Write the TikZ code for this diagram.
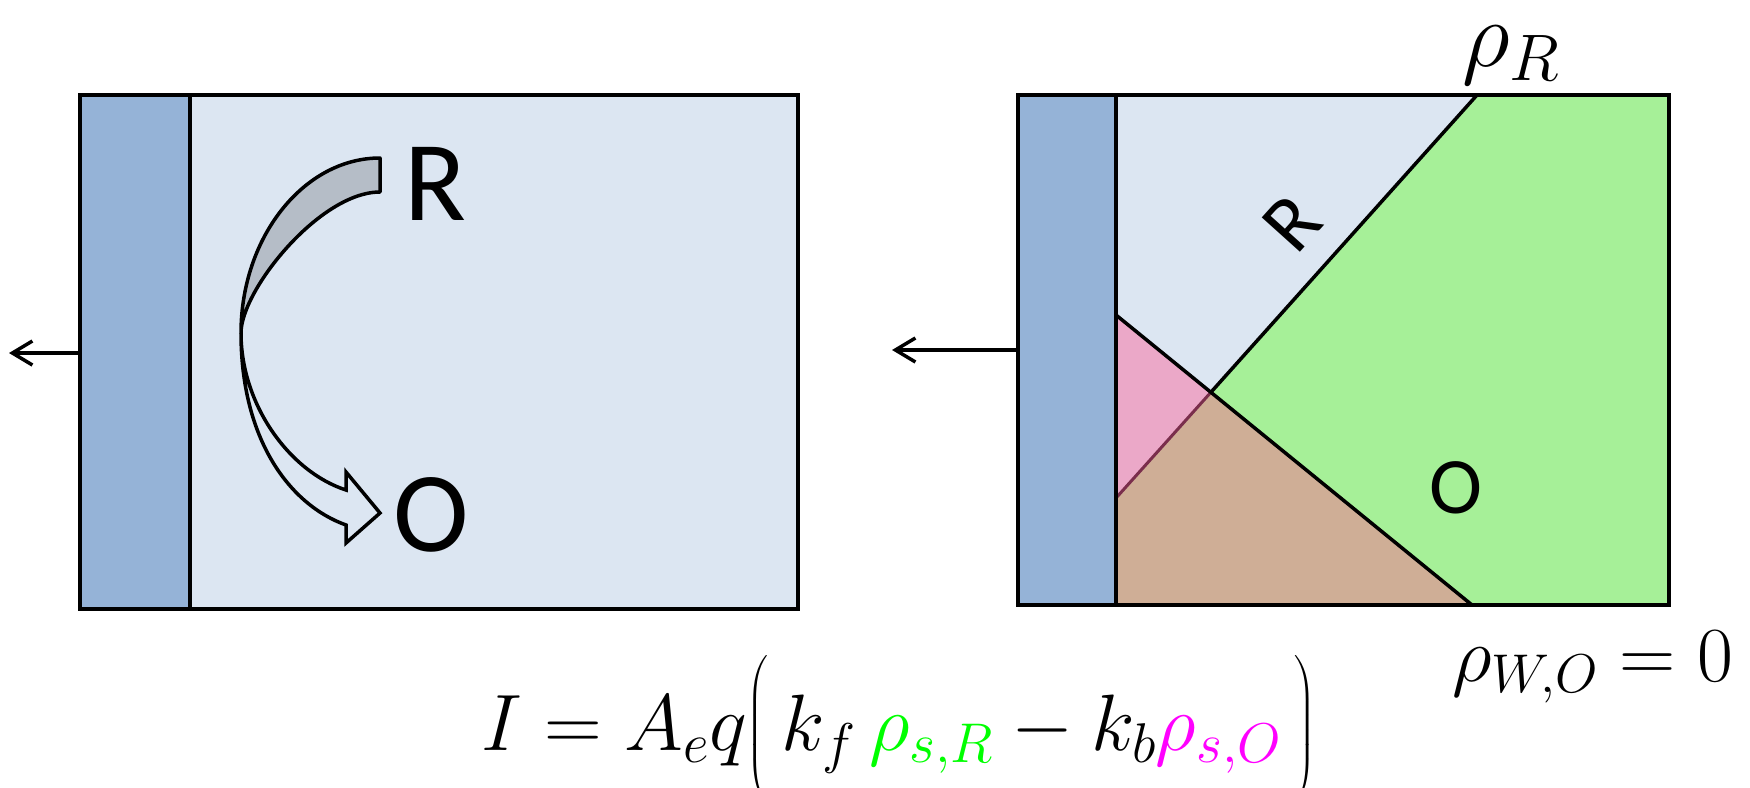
\RequirePackage{fix-cm}
\documentclass[tikz,border=0pt]{standalone}
\usepackage{amsmath}
\usepackage{fontspec}
\usepackage{tikz}
\usetikzlibrary{arrows.meta}
\newfontfamily\calibfont{Carlito}
\definecolor{celllight}{RGB}{220,230,242}
\definecolor{electrode}{RGB}{149,179,215}
\definecolor{regiongreen}{RGB}{166,240,152}
\definecolor{regionpink}{RGB}{235,168,200}
\definecolor{regionbrown}{RGB}{207,174,150}
\definecolor{ribbongray}{RGB}{181,189,199}
\definecolor{seamline}{RGB}{122,46,76}
\definecolor{rhogreen}{RGB}{0,255,0}
\definecolor{rhomagenta}{RGB}{255,0,255}

\begin{document}
\begin{tikzpicture}[x=1pt, y=-1pt,
    box/.style={draw=black, line width=4pt},
    wire/.style={line width=3.5pt, -{Straight Barb[length=20pt,width=24pt]}},
    species/.style={font=\calibfont\fontsize{114}{120}\selectfont, inner sep=0pt},
    smallspecies/.style={font=\calibfont\fontsize{80}{84}\selectfont, inner sep=0pt},
    mathlabel/.style={inner sep=0pt}]
  \useasboundingbox (0,0) rectangle (1750,787);
  % left cell
  \fill[celllight] (190,95) rectangle (798,609);
  \fill[electrode] (80,95) rectangle (190,609);
  \draw[box] (190,95) -- (190,609);
  \draw[box] (80,95) rectangle (798,609);
  \filldraw[fill=ribbongray, draw=black, line width=3.5pt, line join=round]
    (380,158) .. controls (304,158) and (241,237) .. (241,333)
    .. controls (241,290) and (320,192) .. (380,192) -- cycle;
  \filldraw[fill=celllight, draw=black, line width=3.5pt]
    (241,333) .. controls (241,440) and (290,505) .. (346,525) -- (346,543) -- (380,513)
    -- (346,472) -- (346,490) .. controls (290,472) and (241,405) .. (241,333) -- cycle;
  \node[species] (leftR) at (435,184) {R};
  \node[species] (leftO) at (431,515) {O};
  \coordinate (leftlead) at (80,353);
  \coordinate (leftend) at (9,353);
  \draw[wire] (leftlead) -- (leftend);
  % right cell
  \coordinate (pinktop) at (1116,315);
  \coordinate (browntop) at (1116,498);
  \coordinate (greentop) at (1477,95);
  \coordinate (greenfoot) at (1472,605);
  \coordinate (meet) at (intersection of pinktop--greenfoot and browntop--greentop);
  \fill[celllight] (1116,95) rectangle (1669,605);
  \fill[regionpink] (pinktop) -- (meet) -- (browntop) -- cycle;
  \fill[regionbrown] (browntop) -- (meet) -- (greenfoot) -- (1116,605) -- cycle;
  \fill[regiongreen] (meet) -- (greentop) -- (1669,95) -- (1669,605) -- (greenfoot) -- cycle;
  \draw[seamline, line width=3pt] (browntop) -- (meet);
  \draw[line width=3.5pt] (meet) -- (greentop);
  \draw[line width=3.5pt] (pinktop) -- (greenfoot);
  \fill[electrode] (1018,95) rectangle (1116,605);
  \draw[box] (1116,95) -- (1116,605);
  \draw[box] (1018,95) rectangle (1669,605);
  \node[smallspecies, rotate=48] (rightR) at (1292,223) {R};
  \node[smallspecies] (rightO) at (1456,488) {O};
  \coordinate (rightlead) at (1018,350);
  \coordinate (rightend) at (892,350);
  \draw[wire] (rightlead) -- (rightend);
  % labels
  \node[mathlabel, anchor=base, font=\fontsize{94}{100}\selectfont] (rhoR) at (1511,66) {$\rho_R$};
  \node[mathlabel, anchor=base west, font=\fontsize{78}{90}\selectfont] (rhoWO) at (1452,681) {$\rho_{W,O} = 0$};
  \node[mathlabel, anchor=base, font=\fontsize{80}{100}\selectfont] (current) at (899,750)
    {$I = A_e q\Big(\,k_f\, {\color{rhogreen}\rho_{s,R}} - k_b {\color{rhomagenta}\rho_{s,O}}\,\Big)$};
\end{tikzpicture}
\end{document}
